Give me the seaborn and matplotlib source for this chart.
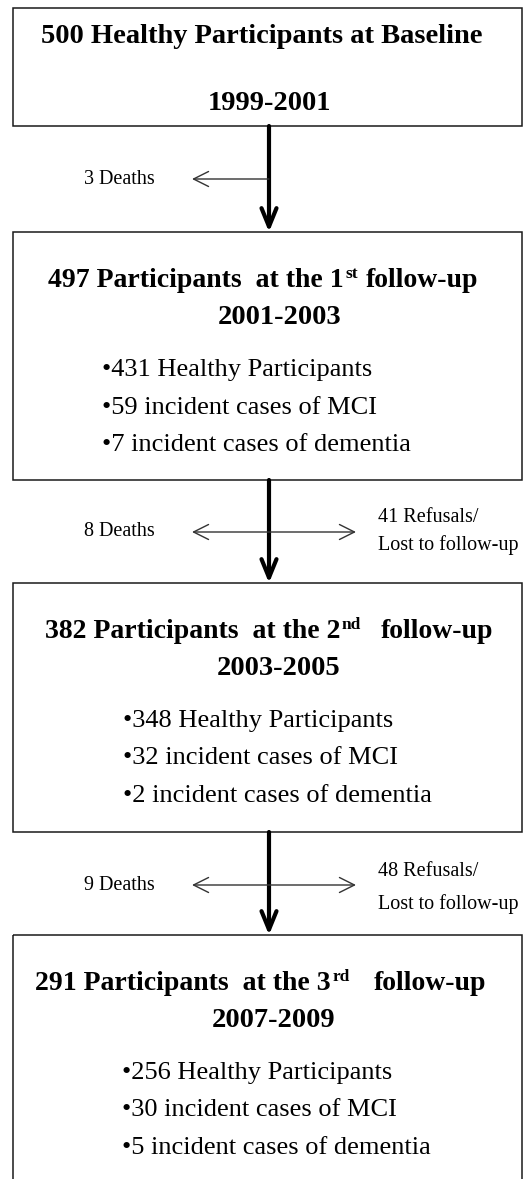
import matplotlib
matplotlib.use("Agg")
from matplotlib import pyplot as plt
from matplotlib.patches import Rectangle
import seaborn as sns

# ------------------------------- Data --------------------------------
counts = [500, 497, 382, 291]
periods = ["1999-2001", "2001-2003", "2003-2005", "2007-2009"]
ordinals = ["1", "2", "3"]
suffixes = ["st", "nd", "rd"]
healthy = [431, 348, 256]
mci = [59, 32, 30]
dementia = [7, 2, 5]
deaths = [3, 8, 9]
refusals = [None, 41, 48]

# ------------------------------- Style --------------------------------
sns.set_theme(style="white")
plt.rcParams['font.family'] = ['Liberation Serif', 'DejaVu Serif']
plt.rcParams['text.color'] = 'black'

W, H = 529, 1179
fig = plt.figure(figsize=(W / 100, H / 100), dpi=100)
ax = fig.add_axes([0, 0, 1, 1])
ax.set_xlim(0, W)
ax.set_ylim(H, 0)
ax.axis('off')
renderer = fig.canvas.get_renderer()

# box geometry (pixel units of the figure)
box_left, box_right = 13, 522
box_tops = [8, 232, 583, 935]
box_bottoms = [126, 480, 832, 1190]
stem_x = 269
title_size = 20
sup_size = 12.5
bullet_size = 19
side_size = 14.5

for top, bottom in zip(box_tops, box_bottoms):
    ax.add_patch(Rectangle((box_left, top), box_right - box_left, bottom - top,
                           fill=False, edgecolor='#1a1a1a', lw=1.1))

# baseline box
ax.text(262, 43, f"{counts[0]} Healthy Participants at Baseline", ha='center',
        va='baseline', fontsize=20.5, fontweight='bold')
ax.text(269, 110, periods[0], ha='center', va='baseline',
        fontsize=20.5, fontweight='bold')

# follow-up boxes
title_left = [48, 45, 35]
sup_gap = [8, 19, 24]
period_x = [280, 279, 274]
bullet_x = [102, 123, 122]
for i in range(3):
    top = box_tops[i + 1]
    base = top + 55
    head = ax.text(title_left[i], base, f"{counts[i + 1]} Participants  at the {ordinals[i]}",
                   ha='left', va='baseline', fontsize=title_size, fontweight='bold')
    x = title_left[i] + head.get_window_extent(renderer).width + 1.5
    sup = ax.text(x, base - 9, suffixes[i], ha='left', va='baseline',
                  fontsize=sup_size, fontweight='bold')
    x += sup.get_window_extent(renderer).width + sup_gap[i]
    ax.text(x, base, "follow-up", ha='left', va='baseline',
            fontsize=title_size, fontweight='bold')
    ax.text(period_x[i], top + 92, periods[i + 1], ha='center', va='baseline',
            fontsize=20.5, fontweight='bold')
    lines = [f"\u2022{healthy[i]} Healthy Participants",
             f"\u2022{mci[i]} incident cases of MCI",
             f"\u2022{dementia[i]} incident cases of dementia"]
    for k, line in enumerate(lines):
        ax.text(bullet_x[i], top + 144 + 37.5 * k, line, ha='left', va='baseline',
                fontsize=bullet_size)

# connectors between boxes
side_y = [179, 532, 885]
ref_y = [None, (517, 545), (871, 904)]
for i in range(3):
    ax.annotate("", xy=(stem_x, box_tops[i + 1]), xytext=(stem_x, box_bottoms[i]),
                arrowprops=dict(arrowstyle="->,head_length=1.1,head_width=0.45",
                                lw=3, color='black', shrinkA=0, shrinkB=0))
    if refusals[i] is None:
        ax.annotate("", xy=(192, side_y[i]), xytext=(stem_x, side_y[i]),
                    arrowprops=dict(arrowstyle="->,head_length=0.9,head_width=0.45",
                                    lw=1, color='#333333', shrinkA=0, shrinkB=0))
    else:
        ax.annotate("", xy=(192, side_y[i]), xytext=(356, side_y[i]),
                    arrowprops=dict(arrowstyle="<->,head_length=0.9,head_width=0.45",
                                    lw=1, color='#333333', shrinkA=0, shrinkB=0))
        ax.text(378, ref_y[i][0], f"{refusals[i]} Refusals/", ha='left', va='center',
                fontsize=side_size)
        ax.text(378, ref_y[i][1], "Lost to follow-up", ha='left', va='center',
                fontsize=side_size)
    ax.text(119, side_y[i], f"{deaths[i]} Deaths", ha='center', va='center',
            fontsize=side_size)

fig.savefig("out.png", dpi=100)
